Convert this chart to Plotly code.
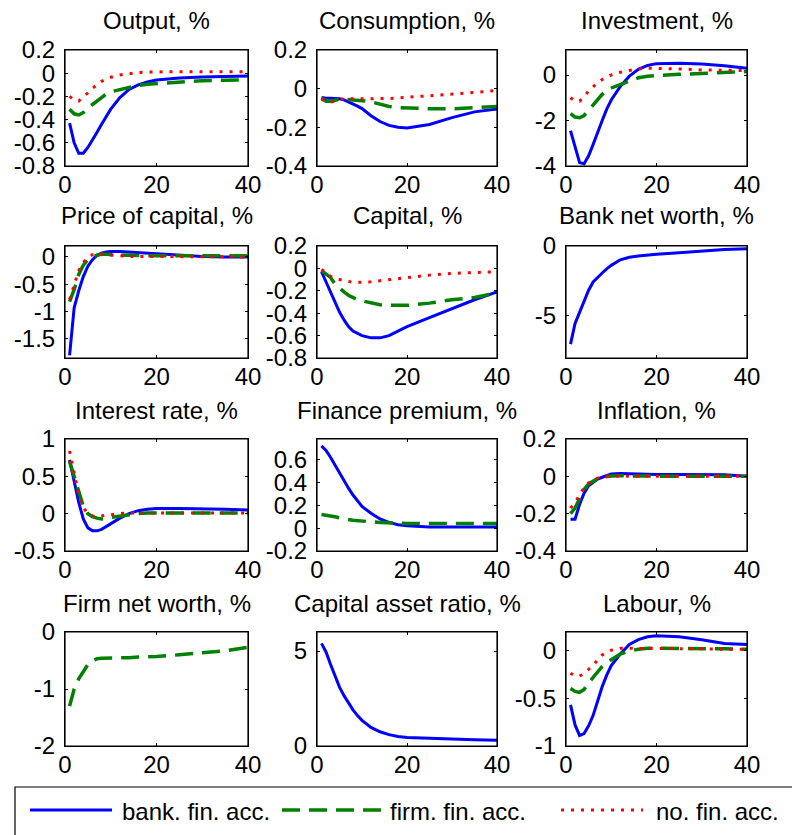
import plotly.graph_objects as go

# ---------------- data ----------------
periods = [1, 2, 3, 4, 5, 6, 7, 8, 9, 10, 12, 14, 16, 18, 20, 25, 30, 35, 40]

series_names = ["bank. fin. acc.", "firm. fin. acc.", "no. fin. acc."]

titles = ["Output, %", "Consumption, %", "Investment, %",
          "Price of capital, %", "Capital, %", "Bank net worth, %",
          "Interest rate, %", "Finance premium, %", "Inflation, %",
          "Firm net worth, %", "Capital asset ratio, %", "Labour, %"]

output_bank = [-0.43, -0.60, -0.69, -0.69, -0.64, -0.58, -0.51, -0.44, -0.37, -0.31, -0.21, -0.14, -0.10, -0.075, -0.058, -0.042, -0.033, -0.028, -0.024]
output_firm = [-0.31, -0.35, -0.36, -0.34, -0.30, -0.27, -0.24, -0.21, -0.18, -0.16, -0.14, -0.12, -0.105, -0.095, -0.09, -0.075, -0.065, -0.06, -0.058]
output_none = [-0.20, -0.23, -0.24, -0.20, -0.17, -0.13, -0.10, -0.07, -0.05, -0.035, -0.015, -0.003, 0.005, 0.01, 0.012, 0.013, 0.013, 0.013, 0.013]

cons_bank = [-0.045, -0.05, -0.05, -0.05, -0.052, -0.058, -0.068, -0.08, -0.09, -0.103, -0.14, -0.17, -0.19, -0.20, -0.203, -0.185, -0.15, -0.12, -0.105]
cons_firm = [-0.05, -0.065, -0.065, -0.058, -0.055, -0.055, -0.056, -0.058, -0.06, -0.062, -0.068, -0.082, -0.092, -0.098, -0.10, -0.104, -0.104, -0.10, -0.092]
cons_none = [-0.055, -0.065, -0.07, -0.062, -0.056, -0.053, -0.052, -0.052, -0.052, -0.052, -0.052, -0.052, -0.051, -0.048, -0.045, -0.038, -0.03, -0.02, -0.009]

inv_bank = [-2.45, -3.2, -3.85, -3.9, -3.55, -3.05, -2.5, -2.0, -1.5, -1.1, -0.5, -0.05, 0.25, 0.42, 0.5, 0.52, 0.48, 0.41, 0.3]
inv_firm = [-1.7, -1.85, -1.88, -1.78, -1.55, -1.3, -1.05, -0.85, -0.68, -0.57, -0.42, -0.25, -0.12, -0.05, -0.02, 0.03, 0.07, 0.1, 0.15]
inv_none = [-1.0, -1.15, -1.15, -0.95, -0.7, -0.5, -0.33, -0.2, -0.08, 0.0, 0.12, 0.2, 0.27, 0.3, 0.3, 0.27, 0.22, 0.2, 0.2]

pk_bank = [-1.8, -0.93, -0.62, -0.36, -0.17, -0.05, 0.03, 0.07, 0.09, 0.1, 0.1, 0.09, 0.07, 0.06, 0.05, 0.03, 0.01, 0.0, 0.0]
pk_firm = [-0.82, -0.6, -0.32, -0.15, -0.05, 0.0, 0.03, 0.05, 0.05, 0.04, 0.03, 0.03, 0.02, 0.02, 0.02, 0.02, 0.02, 0.02, 0.02]
pk_none = [-0.78, -0.5, -0.25, -0.1, 0.0, 0.04, 0.05, 0.05, 0.04, 0.03, 0.02, 0.01, 0.01, 0.0, 0.0, 0.0, 0.0, 0.0, 0.0]

cap_bank = [-0.03, -0.12, -0.21, -0.31, -0.39, -0.46, -0.52, -0.56, -0.58, -0.60, -0.62, -0.62, -0.60, -0.56, -0.52, -0.44, -0.36, -0.28, -0.21]
cap_firm = [-0.02, -0.05, -0.08, -0.14, -0.18, -0.21, -0.24, -0.26, -0.28, -0.29, -0.31, -0.325, -0.33, -0.33, -0.33, -0.31, -0.28, -0.26, -0.22]
cap_none = [-0.01, -0.04, -0.07, -0.09, -0.10, -0.11, -0.12, -0.125, -0.125, -0.125, -0.12, -0.11, -0.10, -0.09, -0.08, -0.06, -0.045, -0.035, -0.03]

bnw_bank = [-7.1, -5.6, -4.8, -4.0, -3.2, -2.6, -2.25, -1.95, -1.65, -1.4, -1.0, -0.82, -0.72, -0.65, -0.6, -0.48, -0.36, -0.26, -0.2]

ir_bank = [0.72, 0.45, 0.15, -0.07, -0.19, -0.23, -0.23, -0.21, -0.17, -0.13, -0.06, 0.0, 0.04, 0.06, 0.07, 0.07, 0.07, 0.06, 0.05]
ir_firm = [0.70, 0.50, 0.27, 0.10, 0.0, -0.04, -0.06, -0.07, -0.06, -0.05, -0.03, -0.01, 0.0, 0.01, 0.01, 0.01, 0.01, 0.01, 0.01]
ir_none = [0.84, 0.55, 0.25, 0.08, 0.0, -0.03, -0.04, -0.03, -0.02, -0.01, 0.0, 0.01, 0.01, 0.01, 0.01, 0.01, 0.01, 0.01, 0.01]

fp_bank = [0.72, 0.68, 0.62, 0.55, 0.49, 0.42, 0.35, 0.29, 0.24, 0.19, 0.13, 0.08, 0.05, 0.03, 0.02, 0.01, 0.01, 0.01, 0.01]
fp_firm = [0.12, 0.115, 0.11, 0.10, 0.09, 0.08, 0.075, 0.07, 0.065, 0.06, 0.055, 0.05, 0.045, 0.04, 0.04, 0.04, 0.04, 0.04, 0.04]

infl_bank = [-0.23, -0.23, -0.15, -0.09, -0.05, -0.03, -0.015, -0.005, 0.005, 0.012, 0.015, 0.013, 0.012, 0.011, 0.01, 0.01, 0.01, 0.008, 0.0]
infl_firm = [-0.2, -0.17, -0.12, -0.07, -0.04, -0.025, -0.012, -0.005, 0.0, 0.002, 0.003, 0.002, 0.001, 0.0, 0.0, 0.0, 0.0, 0.0, 0.0]
infl_none = [-0.17, -0.14, -0.10, -0.06, -0.035, -0.02, -0.01, 0.0, 0.0, 0.002, 0.002, 0.001, 0.0, 0.0, 0.0, 0.0, 0.0, 0.0, 0.0]

fnw_firm = [-1.3, -1.0, -0.82, -0.7, -0.57, -0.5, -0.47, -0.46, -0.46, -0.46, -0.455, -0.45, -0.44, -0.435, -0.43, -0.4, -0.37, -0.33, -0.27]

car_bank = [5.4, 4.95, 4.3, 3.7, 3.1, 2.65, 2.25, 1.9, 1.6, 1.35, 0.98, 0.75, 0.6, 0.5, 0.45, 0.4, 0.37, 0.33, 0.3]

lab_bank = [-0.57, -0.78, -0.89, -0.87, -0.79, -0.68, -0.53, -0.38, -0.26, -0.16, -0.04, 0.06, 0.11, 0.14, 0.15, 0.14, 0.11, 0.07, 0.06]
lab_firm = [-0.40, -0.43, -0.44, -0.41, -0.34, -0.28, -0.22, -0.17, -0.13, -0.10, -0.04, -0.01, 0.01, 0.02, 0.02, 0.02, 0.02, 0.015, 0.01]
lab_none = [-0.24, -0.27, -0.27, -0.24, -0.20, -0.16, -0.10, -0.05, -0.02, 0.0, 0.02, 0.02, 0.02, 0.02, 0.02, 0.02, 0.015, 0.01, 0.01]

x_ticks = [0, 20, 40]
x_ticklabels = ["0", "20", "40"]

y_ticks = [
    [-0.8, -0.6, -0.4, -0.2, 0, 0.2],
    [-0.4, -0.2, 0, 0.2],
    [-4, -2, 0],
    [-1.5, -1, -0.5, 0],
    [-0.8, -0.6, -0.4, -0.2, 0, 0.2],
    [-5, 0],
    [-0.5, 0, 0.5, 1],
    [-0.2, 0, 0.2, 0.4, 0.6],
    [-0.4, -0.2, 0, 0.2],
    [-2, -1, 0],
    [0, 5],
    [-1, -0.5, 0],
]
y_ticklabels = [
    ["-0.8", "-0.6", "-0.4", "-0.2", "0", "0.2"],
    ["-0.4", "-0.2", "0", "0.2"],
    ["-4", "-2", "0"],
    ["-1.5", "-1", "-0.5", "0"],
    ["-0.8", "-0.6", "-0.4", "-0.2", "0", "0.2"],
    ["-5", "0"],
    ["-0.5", "0", "0.5", "1"],
    ["-0.2", "0", "0.2", "0.4", "0.6"],
    ["-0.4", "-0.2", "0", "0.2"],
    ["-2", "-1", "0"],
    ["0", "5"],
    ["-1", "-0.5", "0"],
]
y_ranges = [[-0.8, 0.2], [-0.4, 0.2], [-4, 1.1], [-1.85, 0.2], [-0.8, 0.2], [-8.1, 0],
            [-0.5, 1], [-0.2, 0.78], [-0.4, 0.2], [-2, 0], [0, 6], [-1, 0.19]]

panel_series = [
    (output_bank, output_firm, output_none),
    (cons_bank, cons_firm, cons_none),
    (inv_bank, inv_firm, inv_none),
    (pk_bank, pk_firm, pk_none),
    (cap_bank, cap_firm, cap_none),
    (bnw_bank, None, None),
    (ir_bank, ir_firm, ir_none),
    (fp_bank, fp_firm, None),
    (infl_bank, infl_firm, infl_none),
    (None, fnw_firm, None),
    (car_bank, None, None),
    (lab_bank, lab_firm, lab_none),
]

# ---------------- style ----------------
W, H = 800, 835
OFF = 8  # page body margin of the html page
FONT = "Liberation Sans, Arial, Helvetica, sans-serif"
FS = 24
colors = ["#0000ff", "#008000", "#ff0000"]
widths = [3, 3.5, 3]
dashes = ["solid", "18px,9px", "3px,7px"]

col_px = [(65, 248), (317, 497), (566, 747)]
row_px = [(50, 166), (246, 358), (439, 551), (632, 746)]
title_y_px = [21, 215, 410, 603]


def fx(px):
    return (px - OFF) / W


def fy(px):
    return 1 - (px - OFF) / H


fig = go.Figure()
annotations = []
shapes = []
layout = {}

for p in range(12):
    r, c = divmod(p, 3)
    ax = "" if p == 0 else str(p + 1)
    xd = [fx(col_px[c][0]), fx(col_px[c][1])]
    yd = [fy(row_px[r][1]), fy(row_px[r][0])]
    common = dict(showline=True, linecolor="black", linewidth=1, mirror="ticks",
                  ticks="inside", ticklen=3, tickwidth=1, tickcolor="black",
                  showgrid=False, zeroline=False, automargin=False,
                  tickfont=dict(family=FONT, size=FS, color="black"))
    layout["xaxis" + ax] = dict(domain=xd, anchor="y" + ax, range=[0, 40],
                                tickmode="array", tickvals=x_ticks, ticktext=x_ticklabels,
                                ticklabelstandoff=-3, **common)
    layout["yaxis" + ax] = dict(domain=yd, anchor="x" + ax, range=y_ranges[p],
                                tickmode="array", tickvals=y_ticks[p], ticktext=y_ticklabels[p],
                                ticklabelstandoff=4, **common)
    for s, vals in enumerate(panel_series[p]):
        if vals is None:
            continue
        fig.add_trace(go.Scatter(
            x=periods, y=vals, mode="lines", name=series_names[s],
            line=dict(color=colors[s], width=widths[s], dash=dashes[s]),
            xaxis="x" + ax, yaxis="y" + ax, showlegend=False))
    # plot frame
    shapes.append(dict(type="rect", xref="x" + ax + " domain", yref="y" + ax + " domain",
                       x0=0, x1=1, y0=0, y1=1, line=dict(color="black", width=1.2),
                       fillcolor="rgba(0,0,0,0)", layer="above"))
    annotations.append(dict(text=titles[p], x=(xd[0] + xd[1]) / 2, y=fy(title_y_px[r]),
                            xref="paper", yref="paper", xanchor="center", yanchor="middle",
                            showarrow=False, font=dict(family=FONT, size=FS, color="black")))

# legend box (manual, MATLAB-like)
shapes.append(dict(type="rect", xref="paper", yref="paper",
                   x0=fx(15), x1=1.05, y0=fy(787), y1=-0.05,
                   line=dict(color="black", width=1.2), fillcolor="white", layer="below"))
leg_lines = [(30, 112, 120), (282, 383, 388), (561, 643, 654)]
for s, (a, b, t) in enumerate(leg_lines):
    shapes.append(dict(type="line", xref="paper", yref="paper", x0=fx(a), x1=fx(b),
                       y0=fy(810), y1=fy(810),
                       line=dict(color=colors[s], width=widths[s], dash=dashes[s])))
    annotations.append(dict(text=series_names[s], x=fx(t), y=fy(811),
                            xref="paper", yref="paper", xanchor="left", yanchor="middle",
                            showarrow=False, font=dict(family=FONT, size=FS, color="black")))

fig.update_layout(template="none", width=W, height=H, autosize=False,
                  margin=dict(l=0, r=0, t=0, b=0, pad=0),
                  paper_bgcolor="white", plot_bgcolor="white",
                  showlegend=False, annotations=annotations, shapes=shapes,
                  font=dict(family=FONT, size=FS, color="black"), **layout)

fig.write_html("out.html")
